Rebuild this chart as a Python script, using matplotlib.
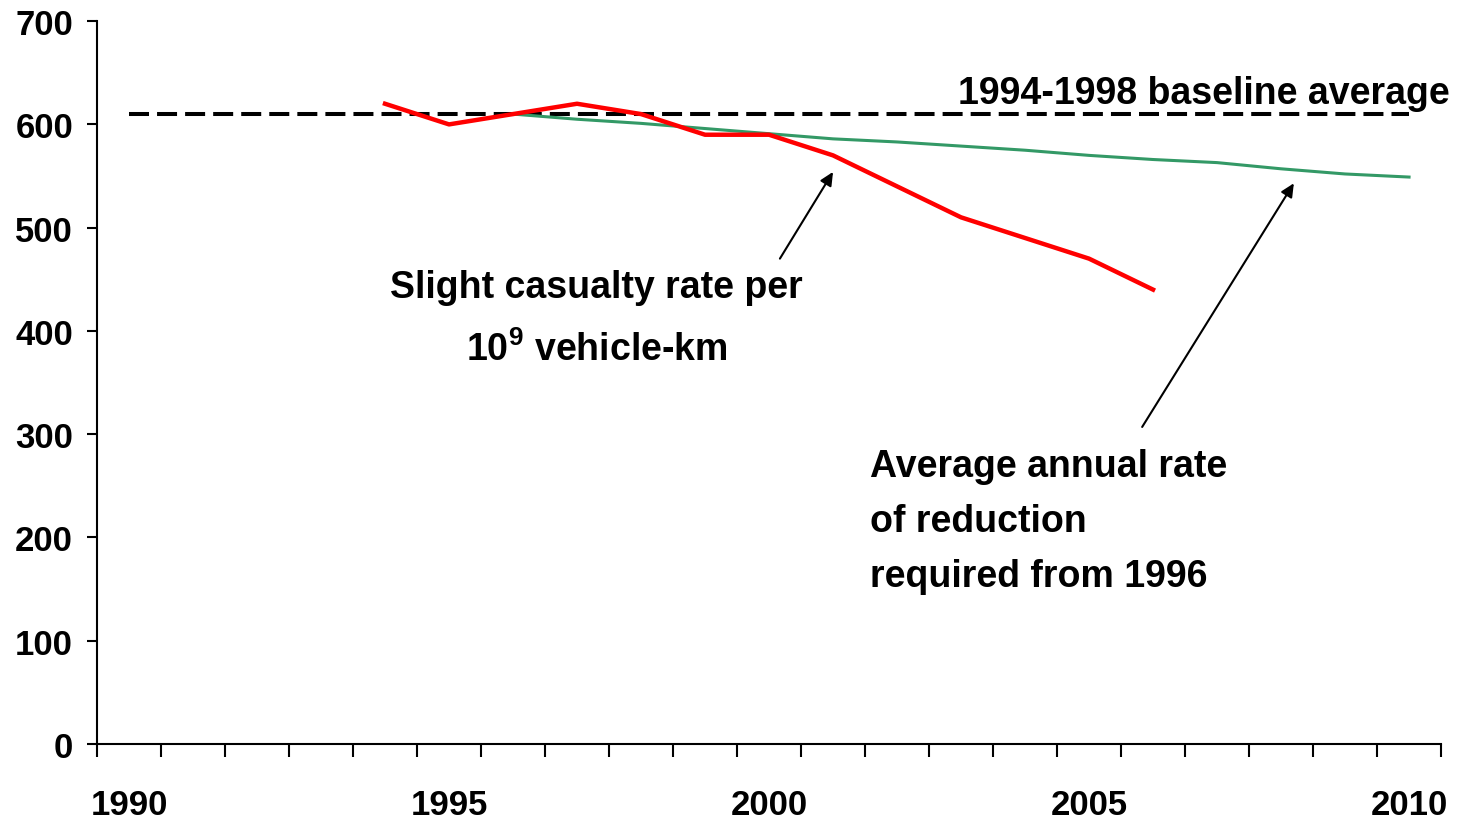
import matplotlib
matplotlib.use("Agg")
import matplotlib.pyplot as plt
import numpy as np

plt.rcParams['font.family'] = ['Liberation Sans', 'DejaVu Sans']
plt.rcParams['font.weight'] = 'bold'
plt.rcParams['mathtext.fontset'] = 'custom'
plt.rcParams['mathtext.rm'] = 'Liberation Sans:bold'
plt.rcParams['mathtext.bf'] = 'Liberation Sans:bold'
plt.rcParams['lines.scale_dashes'] = False

# data
years = list(range(1990, 2011))
slight_years = list(range(1994, 2007))
slight_rate = [620, 600, 610, 620, 610, 590, 590, 570, 540, 510, 490, 470, 440]
target_years = list(range(1996, 2011))
target_rate = [610, 605, 601, 596, 591, 586, 583, 579, 575, 570, 566, 563, 557, 552, 549]
baseline = 610
year_labels = ['1990', '1995', '2000', '2005', '2010']

def idx(yrs):
    return [y - years[0] for y in yrs]

fig = plt.figure(figsize=(14.63, 8.2), dpi=100)
ax = fig.add_axes([0.0663, 0.0915, 0.9187, 0.8815])

# baseline average
ax.plot(idx([1990, 2010]), [baseline, baseline], color='black', lw=2.9,
        dashes=(14.4, 5.8), solid_capstyle='butt', zorder=2)
ax.plot(idx(target_years), target_rate, color='#339966', lw=2.2, zorder=3)
ax.plot(idx(slight_years), slight_rate, color='#ff0000', lw=3.2, zorder=4)

ax.set_xlim(-0.5, len(years) - 0.5)
ax.set_ylim(0, 700)
ax.set_yticks(np.arange(0, 701, 100))
ax.set_xticks(idx([int(s) for s in year_labels]))
ax.set_xticklabels(year_labels)
ax.set_xticks(np.arange(-0.5, len(years), 1), minor=True)
ax.tick_params(axis='x', which='major', length=0, pad=32, labelsize=25)
ax.tick_params(axis='x', which='minor', length=9, width=1.5, direction='out')
ax.tick_params(axis='y', length=7.2, width=1.5, pad=10, labelsize=25)
for s in ['top', 'right']:
    ax.spines[s].set_visible(False)
for s in ['left', 'bottom']:
    ax.spines[s].set_linewidth(1.5)

for lab in ax.get_xticklabels() + ax.get_yticklabels():
    lab.set_fontweight('bold')

# labels and arrows
ax.text(20.64, 630, '1994-1998 baseline average', ha='right', va='center',
        fontsize=27, fontweight='bold', clip_on=False)

arrow = dict(arrowstyle='-|>,head_length=0.8,head_width=0.38', color='black', lw=1.5,
             shrinkA=0, shrinkB=0)
ax.annotate('', xy=(11.0, 554), xytext=(10.17, 470), arrowprops=arrow)
ax.annotate('', xy=(18.2, 543), xytext=(15.83, 307), arrowprops=arrow)

ax.text(7.31, 443, 'Slight casualty rate per', ha='center', va='center',
        fontsize=27, fontweight='bold')
ax.text(7.31, 382, r'10$^{9}$ vehicle-km', ha='center', va='center',
        fontsize=27, fontweight='bold')

ax.text(11.58, 216, 'Average annual rate\nof reduction\nrequired from 1996',
        ha='left', va='center', fontsize=27, fontweight='bold', linespacing=1.67)

fig.savefig('out.png', dpi=100)
